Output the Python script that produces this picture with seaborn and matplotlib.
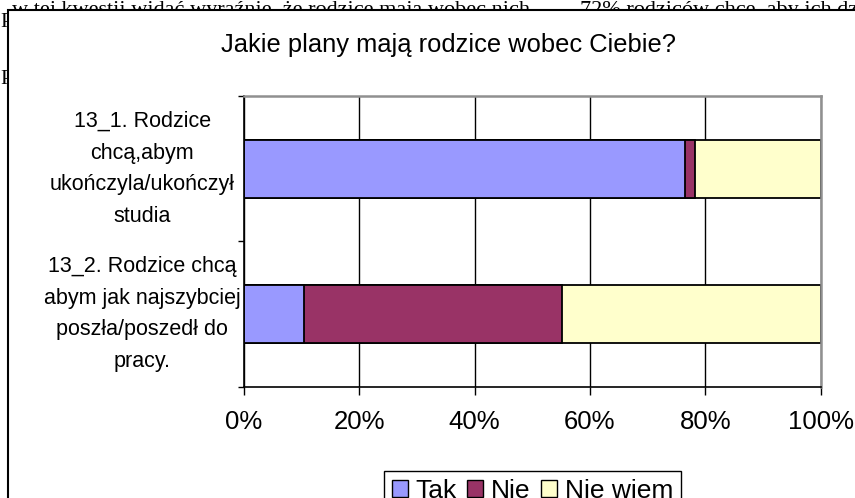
import numpy as np
import pandas as pd
import matplotlib.pyplot as plt
import seaborn as sns
from matplotlib.patches import Rectangle, Patch


# Data (percent of answers)
questions = ['13_1. Rodzice\nchcą,abym\nukończyla/ukończył\nstudia',
             '13_2. Rodzice chcą\nabym jak najszybciej\nposzła/poszedł do\npracy.']
answers = ['Tak', 'Nie', 'Nie wiem']
tak = [76.4, 10.4]
nie = [1.8, 44.7]
nie_wiem = [21.8, 44.9]
x_ticks = [0, 20, 40, 60, 80, 100]
title = 'Jakie plany mają rodzice wobec Ciebie?'

colors = ['#9999FF', '#993366', '#FFFFCC']

plt.rcParams['font.family'] = ['Liberation Sans', 'DejaVu Sans']

df = pd.DataFrame({'pytanie': questions, 'Tak': tak, 'Nie': nie, 'Nie wiem': nie_wiem})
# cumulative ends for stacking
df['c1'] = df['Tak']
df['c2'] = df['Tak'] + df['Nie']
df['c3'] = df['Tak'] + df['Nie'] + df['Nie wiem']

fig = plt.figure(figsize=(8.55, 4.98), dpi=100)

# document text behind the embedded chart (cut off by the chart frame)
fig.text(12 / 855, 1 - 15 / 498, 'w tej kwestii widać wyraźnie, że rodzice mają wobec nich',
         family='Liberation Serif', fontsize=16, va='baseline', ha='left', zorder=-3)
fig.text(580 / 855, 1 - 15 / 498, '72% rodziców chce, aby ich dzieci',
         family='Liberation Serif', fontsize=16, va='baseline', ha='left', zorder=-3)
fig.text(0, 1 - 27 / 498, 'P', family='Liberation Serif', fontsize=15,
         va='baseline', ha='left', zorder=-3)
fig.text(0, 1 - 84 / 498, 'P', family='Liberation Serif', fontsize=15,
         va='baseline', ha='left', zorder=-3)

# chart frame
frame = Rectangle((8 / 855, -0.05), 1.1, 1.05 - 10 / 498, transform=fig.transFigure,
                  facecolor='white', edgecolor='black', lw=1.5, zorder=-1)
fig.patches.append(frame)

ax = fig.add_axes([243.7 / 855, 1 - 386.7 / 498, 577 / 855, 290.4 / 498])

# stacked bars: draw the longest first, then the shorter ones on top
for col, c in zip(['c3', 'c2', 'c1'], colors[::-1]):
    sns.barplot(data=df, y='pytanie', x=col, color=c, saturation=1, width=0.4,
                edgecolor='black', linewidth=1.3, ax=ax, orient='h')

ax.set_xlim(0, 100)
ax.set_ylim(1.5, -0.5)
ax.set_xticks(x_ticks)
ax.set_xticklabels([f'{t}%' for t in x_ticks], fontsize=18.5)
ax.set_yticks([-0.5, 0.5, 1.5])
ax.set_yticklabels([])
ax.set_xlabel('')
ax.set_ylabel('')
ax.tick_params(axis='x', direction='out', length=5.5, width=1, pad=11, colors='black')
ax.tick_params(axis='y', direction='out', length=4, width=1)

ax.set_axisbelow(True)
ax.xaxis.grid(True, color='black', lw=1)
for s in ['left', 'bottom']:
    ax.spines[s].set_color('black')
    ax.spines[s].set_linewidth(1.2)
for s in ['top', 'right']:
    ax.spines[s].set_color('#909090')
    ax.spines[s].set_linewidth(1.8)

# category labels, centered left of the axis
for i, q in enumerate(questions):
    ax.text(-0.176, i, q, transform=ax.get_yaxis_transform(), ha='center', va='center',
            multialignment='center', fontsize=15.5, linespacing=1.66)

fig.text(448 / 855, 1 - 45 / 498, title, ha='center', va='center', fontsize=18.4)

handles = [Patch(facecolor=c, edgecolor='black', lw=1) for c in colors]
fig.legend(handles, answers, loc='upper left', bbox_to_anchor=(384 / 855, 1 - 471 / 498),
           ncol=3, frameon=True, fancybox=False, edgecolor='black', framealpha=1,
           fontsize=19, handlelength=0.6, handleheight=0.6, handletextpad=0.3,
           columnspacing=0.4, borderpad=0.3, borderaxespad=0)

fig.savefig('out.png', dpi=100)
